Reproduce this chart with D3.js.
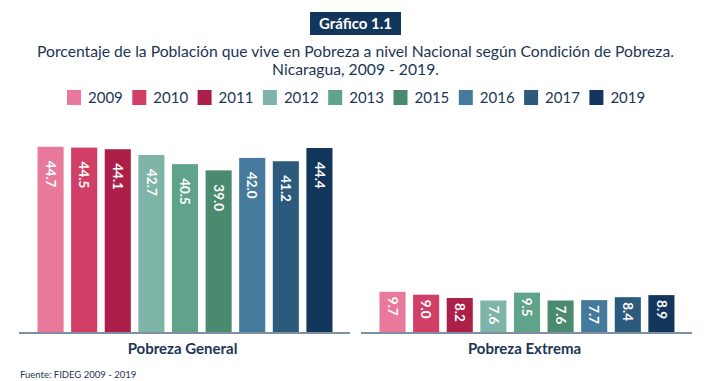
<!DOCTYPE html>
<html>
<head>
<meta charset="utf-8">
<script src="https://cdn.jsdelivr.net/npm/d3@7"></script>
<style>
  body { margin: 0; background: #fff; }
  svg { display: block; font-family: Lato, "Open Sans", sans-serif; }
</style>
</head>
<body>
<div id="chart"></div>
<script>
var years = ["2009", "2010", "2011", "2012", "2013", "2015", "2016", "2017", "2019"];
var groups = ["Pobreza General", "Pobreza Extrema"];
var general = [44.7, 44.5, 44.1, 42.7, 40.5, 39.0, 42.0, 41.2, 44.4];
var extrema = [9.7, 9.0, 8.2, 7.6, 9.5, 7.6, 7.7, 8.4, 8.9];
var colors = ["#e8799a", "#d23f66", "#ab1f48", "#7fb4a8", "#5fa38a", "#4a8a6e", "#467a9c", "#2c5a7c", "#12365c"];

var width = 706, height = 381;
var navy = "#1b3556";

var svg = d3.select("#chart")
  .append("svg")
  .attr("width", width)
  .attr("height", height);

// title box
svg.append("rect")
  .attr("x", 310).attr("y", 12)
  .attr("width", 91).attr("height", 23)
  .attr("fill", "#12365c");
svg.append("text")
  .attr("x", 355.5).attr("y", 29)
  .attr("text-anchor", "middle")
  .attr("fill", "#fff")
  .attr("font-weight", "bold")
  .attr("font-size", 15)
  .text("Gráfico 1.1");

svg.append("text")
  .attr("x", 355.5).attr("y", 57)
  .attr("text-anchor", "middle")
  .attr("fill", navy)
  .attr("font-size", 15.7)
  .text("Porcentaje de la Población que vive en Pobreza a nivel Nacional según Condición de Pobreza.");
svg.append("text")
  .attr("x", 355.5).attr("y", 75)
  .attr("text-anchor", "middle")
  .attr("fill", navy)
  .attr("font-size", 15.7)
  .text("Nicaragua, 2009 - 2019.");

// legend
var legend = svg.selectAll(".leg")
  .data(years)
  .enter()
  .append("g")
  .attr("class", "leg")
  .attr("transform", function(d, i) { return "translate(" + (67 + i * 65.3) + ",90)"; });
legend.append("rect")
  .attr("width", 14).attr("height", 15)
  .attr("fill", function(d, i) { return colors[i]; });
legend.append("text")
  .attr("x", 21).attr("y", 13)
  .attr("font-size", 15)
  .attr("fill", navy)
  .text(function(d) { return d; });

// scales
var baseY = 332;
var y = d3.scaleLinear().domain([0, 45]).range([baseY, baseY - 186.5]);

var outer = d3.scaleBand()
  .domain(groups)
  .range([19, 692])
  .paddingInner(0.032);

var inner = d3.scaleBand()
  .domain(years)
  .range([14.75, 317.25])
  .paddingInner(0.224)
  .paddingOuter(0.112);

var series = [general, extrema];

var grp = svg.selectAll(".grp")
  .data(groups)
  .enter()
  .append("g")
  .attr("class", "grp")
  .attr("transform", function(d) { return "translate(" + outer(d) + ",0)"; });

grp.each(function(gname, gi) {
  var g = d3.select(this);
  var vals = series[gi];

  g.selectAll("rect.bar")
    .data(vals)
    .enter()
    .append("rect")
    .attr("class", "bar")
    .attr("x", function(d, i) { return inner(years[i]); })
    .attr("y", function(d) { return y(d); })
    .attr("width", inner.bandwidth())
    .attr("height", function(d) { return baseY - y(d); })
    .attr("fill", function(d, i) { return colors[i]; });

  g.selectAll("text.val")
    .data(vals)
    .enter()
    .append("text")
    .attr("class", "val")
    .attr("transform", function(d, i) {
      var cx = inner(years[i]) + inner.bandwidth() / 2;
      var off = (baseY - y(d)) > 60 ? 14 : 5;
      return "translate(" + cx + "," + (y(d) + off) + ") rotate(90)";
    })
    .attr("dy", "0.35em")
    .attr("fill", "#fff")
    .attr("font-weight", "bold")
    .attr("font-size", 13.5)
    .text(function(d) { return d.toFixed(1); });

  // baseline
  g.append("line")
    .attr("x1", 0).attr("x2", outer.bandwidth())
    .attr("y1", baseY + 1).attr("y2", baseY + 1)
    .attr("stroke", "#7d90a6")
    .attr("stroke-width", 2);

  g.append("text")
    .attr("x", outer.bandwidth() / 2 - 2)
    .attr("y", 354)
    .attr("text-anchor", "middle")
    .attr("font-weight", "bold")
    .attr("font-size", 15)
    .attr("fill", navy)
    .text(gname);
});

svg.append("text")
  .attr("x", 20).attr("y", 378)
  .attr("font-size", 9.5)
  .attr("fill", navy)
  .text("Fuente: FIDEG 2009 - 2019");
</script>
</body>
</html>
